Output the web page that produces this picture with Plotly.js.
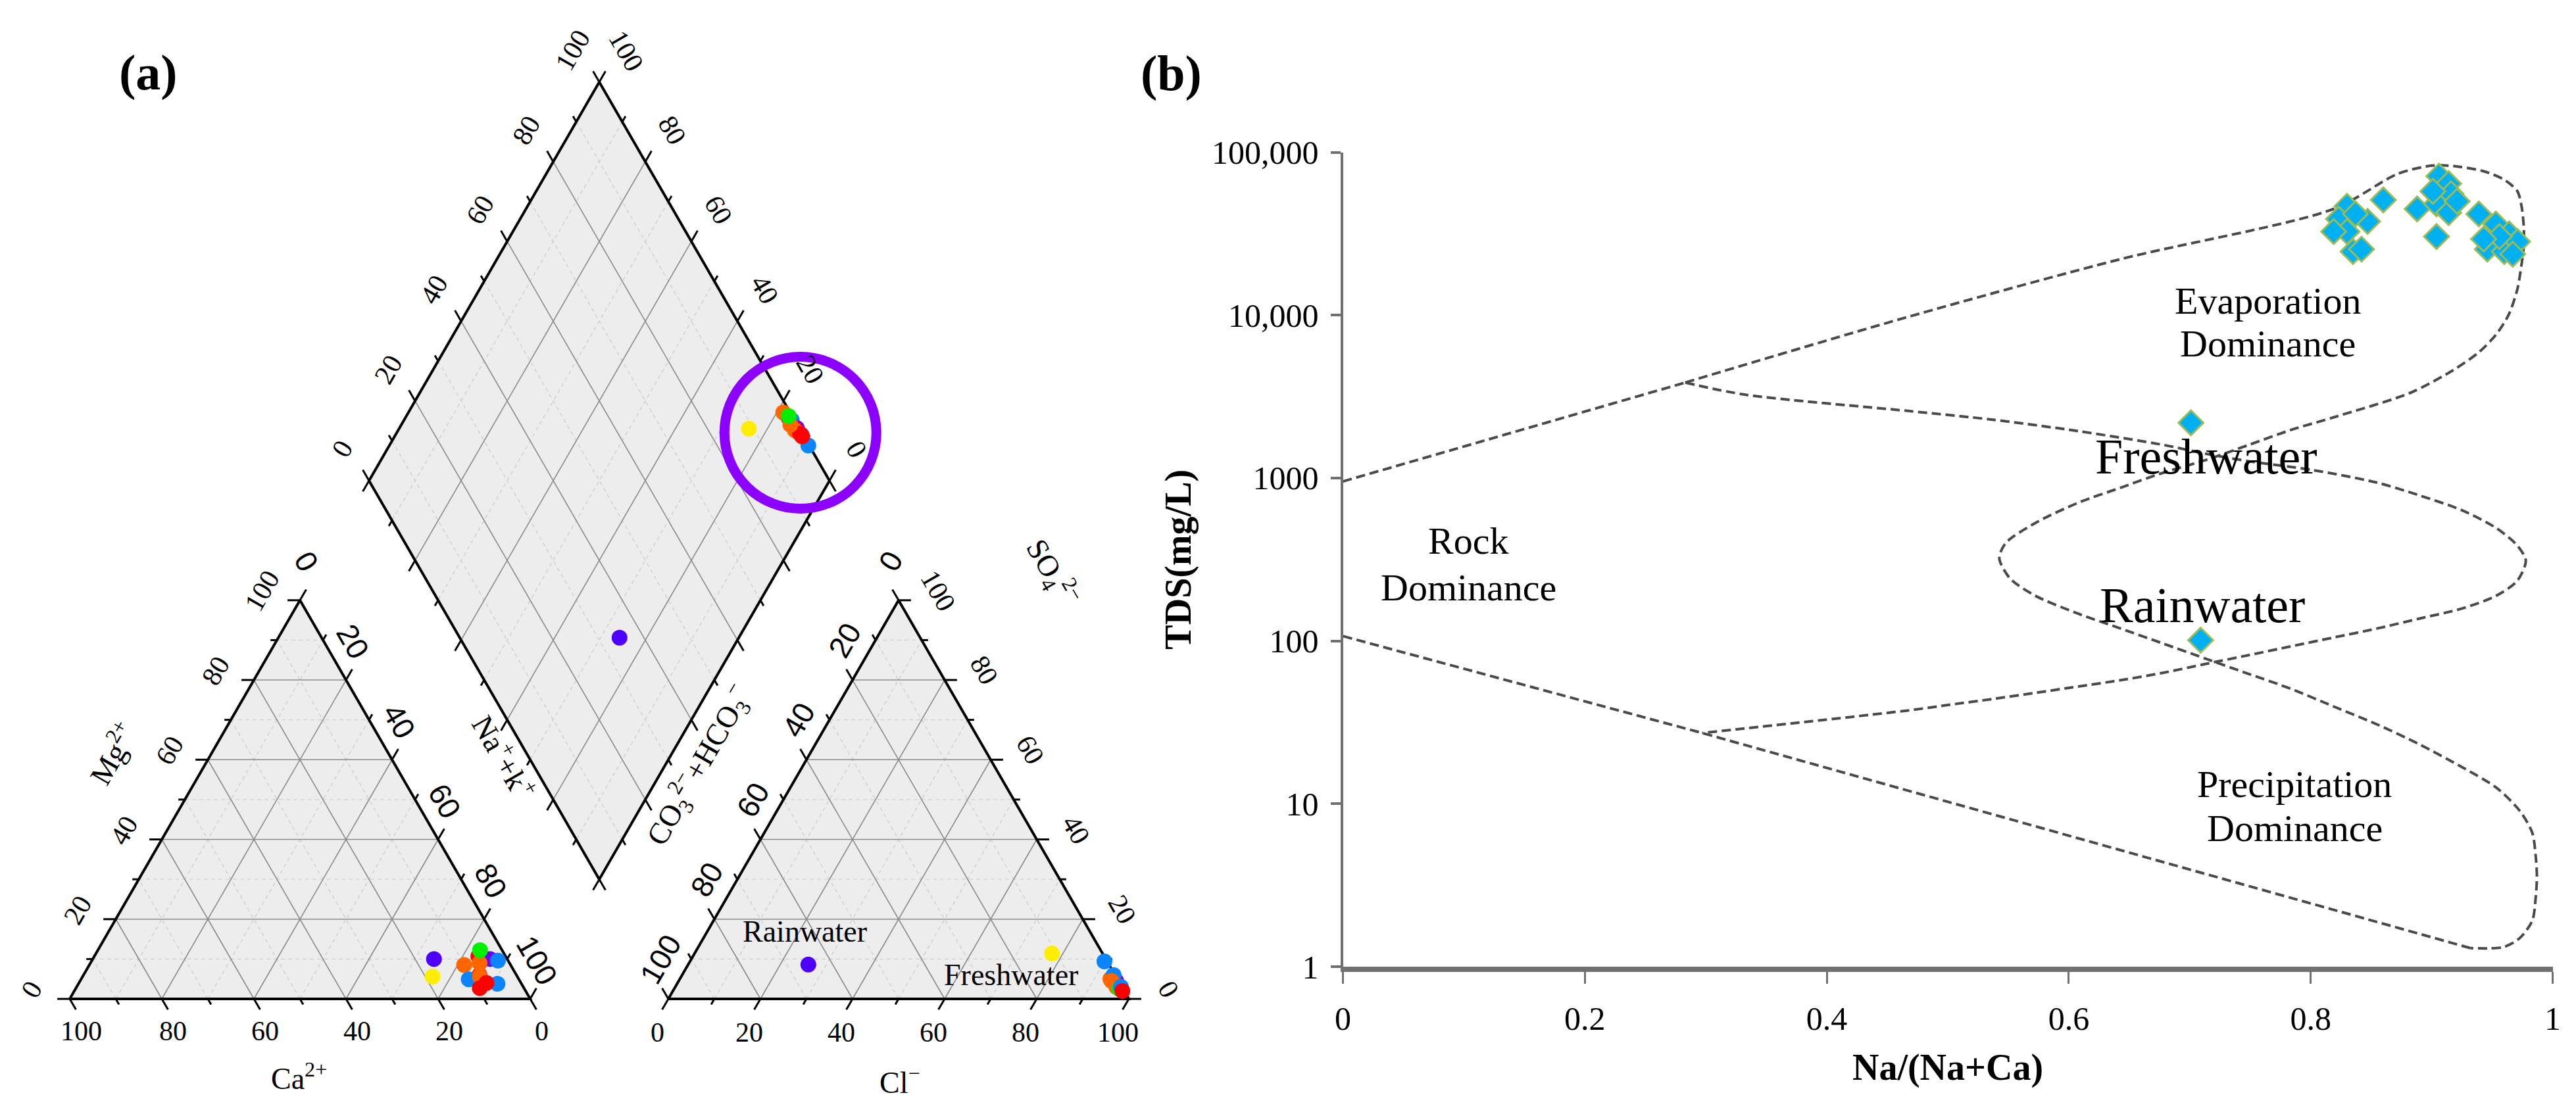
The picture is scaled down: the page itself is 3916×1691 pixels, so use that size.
<!DOCTYPE html>
<html><head><meta charset="utf-8">
<script src="https://cdn.plot.ly/plotly-3.0.1.min.js"></script>
<style>html,body{margin:0;padding:0;background:#fff}</style>
</head><body>
<div id="chart" style="width:3916px;height:1691px"></div>
<script>
// ================= DATA =================
// Piper samples (meq %)
const sampleColors = ['#4D00FF','#FFEE00','#FF6600','#FF0000','#0A84FF','#6A00FF','#FF0000','#FF6600','#0A84FF','#FF0000','#FF6600','#00EE00','#0A84FF','#FF0000'];
const cationCa  = [15.9, 18.4, 10.1,  5.9, 10.9,  3.7,  8.0,  8.1,  2.2,  9.6,  6.5,  4.8,  5.2,  7.5];
const cationMg  = [10.0,  5.6,  8.5, 10.7,  4.9, 10.0,  6.0,  5.7,  9.6,  2.7,  9.0, 12.2,  3.8,  4.0];
const cationNaK = [74.1, 76.0, 81.4, 83.4, 84.2, 86.3, 86.0, 86.2, 88.2, 87.7, 84.5, 83.0, 91.0, 88.5];
const anionHCO3 = [65.3, 11.0,  1.5,  1.0,  0.6,  0.5,  1.0,  1.2,  0.3,  0.5,  1.5,  0.8,  0.2,  0.4];
const anionSO4  = [ 8.6, 11.4,  5.0,  3.5,  9.4,  4.5,  4.0,  3.0,  6.0,  2.5,  4.5,  2.5,  3.0,  2.0];
const anionCl   = [26.1, 77.6, 93.5, 95.5, 90.0, 95.0, 95.0, 95.8, 93.7, 97.0, 94.0, 96.7, 96.8, 97.6];
const piperTickValues = [0, 20, 40, 60, 80, 100];

// Gibbs samples
const gibbsRatio = [0.830,0.860,0.847,0.823,0.830,0.835,0.842,0.837,0.819,
                    0.906,0.914,0.916,0.888,0.904,0.914,0.904,0.921,0.901,
                    0.939,0.953,0.964,0.946,0.960,0.971,0.967,0.956,0.943,
                    0.701,0.709];
const gibbsTDS   = [46560,50930,37580,38900,32580,24550,25410,41880,32580,
                    71290,64120,55590,44870,48190,42560,30340,50000,57540,
                    41780,36220,31480,25410,24550,28250,23660,30340,29310,
                    2183,101];

// Gibbs boundary (dashed) curves
const upperLineRatio = [0, 0.283];
const upperLineTDS   = [953, 3855];
const outerRatio = [0.283,0.467,0.643,0.819,0.8721,0.9003,0.9179,0.9426,0.9602,0.9708,0.9743,0.9761,0.9761,0.9743,0.9708,0.9637,0.9532,0.9390,0.9179,0.8827,
                    0.8192,0.7840,0.7488,0.7135,0.6783,0.6430,0.6078,0.5725,0.5479,0.5426,0.5514,0.5725,0.6078,0.6430,0.6783,0.7135,0.7488,0.7840,0.8192,0.8545,0.8897,0.9250,0.9532,
                    0.9729,0.9832,0.9859,0.9870,0.9859,0.9832,0.9729,0.9593,0.9320];
const outerTDS   = [3855,9750,22080,44870,73800,82800,82200,76560,67600,57680,46560,34990,26360,20510,14390,10070,7590,5915,4600,3342,
                    2360,1977,1596,1291,1079,873,705,530,399,322,242,189,147,119,96.2,77.6,62.7,50.7,39.5,30.8,23.2,16.8,12.6,
                    9.04,6.62,4.85,3.56,2.61,1.92,1.50,1.32,1.30];
const lowerLineRatio = [0.9320, 0.297, 0];
const lowerLineTDS   = [1.30, 27.2, 107];
const innerRatio = [0.283,0.332,0.467,0.5373,0.6078,0.6783,0.7135,0.7488,0.8016,0.8545,0.8897,0.9250,0.9532,0.9708,0.9778,0.9708,0.9532,0.9250,0.8897,0.8545,0.8192,0.7840,0.7488,0.7135,0.6783,0.6430,0.6078,0.5725,0.5373,0.5021,0.4670,0.297];
const innerTDS   = [3855,3251,2582,2280,1941,1596,1409,1268,1119,938,783,634,494,385,311,234,189,158,137,119,105,92.7,81.8,72.3,63.8,57.4,52.5,48.0,44.0,40.6,37.4,27.2];

const gibbsXTicks = [0, 0.2, 0.4, 0.6, 0.8, 1];
const gibbsXTickText = ['0','0.2','0.4','0.6','0.8','1'];
const gibbsYTicks = [1, 10, 100, 1000, 10000, 100000];
const gibbsYTickText = ['1','10','100','1000','10,000','100,000'];

// ================= GEOMETRY =================
const W = 3916, HT = 1691;
const PX = 7;             // pixels per Piper unit
const ORX = 106, ORY = 1519; // pixel of Piper origin
const H = Math.sqrt(3)/2;
const SERIF = 'Liberation Serif, Times New Roman, serif';
const SANS = 'Liberation Sans, Arial, sans-serif';
const cat = (ca, mg, nak) => [nak + mg/2, mg*H];
const ani = (hco3, so4, cl) => [130 + cl + so4/2, so4*H];
const dia = (nak, hco3) => [115 + 0.5*nak - 0.5*hco3, 230*H - H*(nak + hco3)];
const off = (p, dx, dy) => [p[0] + dx/PX, p[1] - dy/PX];

function seg(a, p, q){ a.x.push(p[0], q[0], null); a.y.push(p[1], q[1], null); }

const gridMaj = {x:[],y:[]}, gridMin = {x:[],y:[]};
for (let v = 10; v < 100; v += 10) {
  const g = (v % 20 === 0) ? gridMaj : gridMin;
  seg(g, cat(100-v, v, 0), cat(0, v, 100-v));
  seg(g, cat(100-v, 0, v), cat(0, 100-v, v));
  seg(g, cat(v, 0, 100-v), cat(v, 100-v, 0));
  seg(g, ani(100-v, v, 0), ani(0, v, 100-v));
  seg(g, ani(100-v, 0, v), ani(0, 100-v, v));
  seg(g, ani(v, 0, 100-v), ani(v, 100-v, 0));
  seg(g, dia(v, 0), dia(v, 100));
  seg(g, dia(0, v), dia(100, v));
}

const polys = [
  [cat(100,0,0), cat(0,0,100), cat(0,100,0)],
  [ani(100,0,0), ani(0,0,100), ani(0,100,0)],
  [dia(0,0), dia(100,0), dia(100,100), dia(0,100)]
];
const fillTraces = polys.map(p => ({
  x: p.map(q=>q[0]).concat([p[0][0]]), y: p.map(q=>q[1]).concat([p[0][1]]),
  mode:'lines', fill:'toself', fillcolor:'#EDEDED', line:{width:0, color:'rgba(0,0,0,0)'},
  xaxis:'x', yaxis:'y', hoverinfo:'skip'
}));
const border = {x:[], y:[]};
polys.forEach(p => { p.concat([p[0]]).forEach(q => { border.x.push(q[0]); border.y.push(q[1]); }); border.x.push(null); border.y.push(null); });

// ticks
const ticks = {x:[], y:[]};
const axesDef = [
  {pt: v => cat(v, 0, 100-v), d: [0.5, -H]},
  {pt: v => cat(100-v, v, 0), d: [-1, 0]},
  {pt: v => cat(0, 100-v, v), d: [0.5, H]},
  {pt: v => ani(100-v, 0, v), d: [-0.5, -H]},
  {pt: v => ani(v, 100-v, 0), d: [-0.5, H]},
  {pt: v => ani(0, v, 100-v), d: [1, 0]},
  {pt: v => dia(0, v), d: [-0.5, H]},
  {pt: v => dia(v, 0), d: [0.5, H]},
  {pt: v => dia(v, 100), d: [-0.5, -H]},
  {pt: v => dia(100, v), d: [0.5, -H]}
];
axesDef.forEach(a => {
  for (let v = 0; v <= 100; v += 10) {
    const p = a.pt(v), L = (v % 20 === 0) ? 2.7 : 1.4;
    seg(ticks, p, [p[0] + a.d[0]*L, p[1] + a.d[1]*L]);
  }
});

// annotations
const ann = [];
function lab(p, text, angle, size, family){
  ann.push({x:p[0], y:p[1], xref:'x', yref:'y', text:text, showarrow:false,
    textangle: angle||0, xanchor:'center', yanchor:'middle',
    font:{family:family||SERIF, size:size||42, color:'#000'}});
}
piperTickValues.forEach(v => {
  lab(off(cat(v,0,100-v), 17, 49), String(v), 0);
  lab(off(cat(100-v,v,0), -58, -14), String(v), -60);
  lab(off(cat(0,100-v,v), 10, -59), String(v), 60, 46, SANS);
  lab(off(dia(0,100-v), -41, -48), String(v), -60);
  lab(off(dia(100-v,0), 41, -48), String(v), 60);
  lab(off(ani(v,100-v,0), -12, -60), String(v), -60, 46, SANS);
  lab(off(ani(0,v,100-v), 60, -15), String(v), 60);
  lab(off(ani(100-v,0,v), -17, 51), String(v), 0);
});
const P = (px, py) => [(px-ORX)/PX, (ORY-py)/PX];
lab(P(454,1637), 'Ca<sup>2+</sup>', 0, 46);
lab(P(170,1145), 'Mg<sup>2+</sup>', -60, 46);
lab(P(767,1150), 'Na<sup>+</sup>+k<sup>+</sup>', 60, 46);
lab(P(1062,1163), 'CO<sub>3</sub><sup>2\u2212</sup>+HCO<sub>3</sub><sup>\u2212</sup>', -60, 46);
lab(P(1600,870), 'SO<sub>4</sub><sup>2\u2212</sup>', 60, 46);
lab(P(1368,1643), 'Cl<sup>\u2212</sup>', 0, 46);
lab(P(1223,1416), 'Rainwater', 0, 46);
lab(P(1537,1482), 'Freshwater', 0, 46);
lab(P(225,110), '<b>(a)</b>', 0, 76);

// Gibbs text
function glab(u, tds, text, size){
  ann.push({x:u, y:Math.log10(tds), xref:'x2', yref:'y2', text:text, showarrow:false,
    xanchor:'center', yanchor:'middle', font:{family:SERIF, size:size, color:'#000'}});
}
glab(0.7645, 12190, 'Evaporation', 58);
glab(0.7645, 6710, 'Dominance', 58);
glab(0.1037, 413, 'Rock', 58);
glab(0.1037, 213, 'Dominance', 58);
glab(0.7866, 13.2, 'Precipitation', 58);
glab(0.7866, 7.1, 'Dominance', 58);
glab(0.7135, 1352, 'Freshwater', 76);
glab(0.7107, 166, 'Rainwater', 76);
ann.push({x:1780/W, y:1-112/HT, xref:'paper', yref:'paper', text:'<b>(b)</b>', showarrow:false,
  xanchor:'center', yanchor:'middle', font:{family:SERIF, size:76, color:'#000'}});

// highlight circle around the main cluster in the diamond
const clusterIdx = cationNaK.map((v,i)=>i).filter(i => anionHCO3[i] < 5);
const dpts = clusterIdx.map(i => dia(cationNaK[i], anionHCO3[i]));
const cx = (Math.min(...dpts.map(p=>p[0])) + Math.max(...dpts.map(p=>p[0])))/2 + 1.0;
const cy = (Math.min(...dpts.map(p=>p[1])) + Math.max(...dpts.map(p=>p[1])))/2 - 0.8;
const CR = 16.5;

// ================= TRACES =================
const cPts = cationCa.map((c,i) => cat(c, cationMg[i], cationNaK[i]));
const aPts = anionHCO3.map((c,i) => ani(c, anionSO4[i], anionCl[i]));
const dPts = cationNaK.map((n,i) => dia(n, anionHCO3[i]));
const mk = pts => ({x: pts.map(p=>p[0]), y: pts.map(p=>p[1]), mode:'markers', xaxis:'x', yaxis:'y',
  marker:{size:24, color:sampleColors, line:{width:0}}, hoverinfo:'skip'});

const dashLine = {color:'#4A4A4A', width:4, dash:'14px,7px'};
const traces = [
  ...fillTraces,
  {x:gridMin.x, y:gridMin.y, mode:'lines', line:{color:'#CFCFCF', width:1.4, dash:'6px,5px'}, xaxis:'x', yaxis:'y', hoverinfo:'skip'},
  {x:gridMaj.x, y:gridMaj.y, mode:'lines', line:{color:'#8A8A8A', width:1.6}, xaxis:'x', yaxis:'y', hoverinfo:'skip'},
  {x:border.x, y:border.y, mode:'lines', line:{color:'#000', width:4}, xaxis:'x', yaxis:'y', hoverinfo:'skip'},
  {x:ticks.x, y:ticks.y, mode:'lines', line:{color:'#000', width:3}, xaxis:'x', yaxis:'y', hoverinfo:'skip'},
  mk(cPts), mk(aPts), mk(dPts),
  // Gibbs
  {x:upperLineRatio, y:upperLineTDS, mode:'lines', line:dashLine, xaxis:'x2', yaxis:'y2', hoverinfo:'skip'},
  {x:outerRatio, y:outerTDS, mode:'lines', line:Object.assign({shape:'spline', smoothing:0.8}, dashLine), xaxis:'x2', yaxis:'y2', hoverinfo:'skip'},
  {x:lowerLineRatio, y:lowerLineTDS, mode:'lines', line:dashLine, xaxis:'x2', yaxis:'y2', hoverinfo:'skip'},
  {x:innerRatio, y:innerTDS, mode:'lines', line:Object.assign({shape:'spline', smoothing:0.8}, dashLine), xaxis:'x2', yaxis:'y2', hoverinfo:'skip'},
  {x:gibbsRatio, y:gibbsTDS, mode:'markers', xaxis:'x2', yaxis:'y2', hoverinfo:'skip',
    marker:{symbol:'diamond', size:29, color:'#00B0F0', line:{color:'#9BBB59', width:3}}}
];

const layout = {
  width:W, height:HT, margin:{l:0,r:0,t:0,b:0}, paper_bgcolor:'#fff', plot_bgcolor:'rgba(0,0,0,0)',
  showlegend:false, font:{family:SERIF, color:'#000'},
  xaxis:{domain:[0,0.5], range:[-ORX/PX, (W*0.5-ORX)/PX], visible:false, fixedrange:true},
  yaxis:{domain:[0,1], range:[(ORY-HT)/PX, ORY/PX], visible:false, fixedrange:true},
  xaxis2:{domain:[2041.5/W, 3880.5/W], range:[0,1], anchor:'y2', showgrid:false, zeroline:false,
    showline:true, linecolor:'#707070', linewidth:8, ticks:'outside', ticklen:18, tickwidth:3, tickcolor:'#707070',
    tickvals:gibbsXTicks, ticktext:gibbsXTickText, tickfont:{family:SERIF, size:50, color:'#000'}, ticklabelstandoff:10,
    title:{text:'<b>Na/(Na+Ca)</b>', font:{family:SERIF, size:56, color:'#000'}, standoff:30}},
  yaxis2:{domain:[(HT-1470)/HT, (HT-231.5)/HT], type:'log', range:[0,5], anchor:'x2', showgrid:false, zeroline:false,
    showline:true, linecolor:'#707070', linewidth:4, ticks:'outside', ticklen:15, tickwidth:4, tickcolor:'#707070',
    tickvals:gibbsYTicks, ticktext:gibbsYTickText, tickfont:{family:SERIF, size:50, color:'#000'}, ticklabelstandoff:8,
    title:{text:'<b>TDS(mg/L)</b>', font:{family:SERIF, size:56, color:'#000'}, standoff:14}},
  shapes:[{type:'circle', xref:'x', yref:'y', x0:cx-CR, x1:cx+CR, y0:cy-CR, y1:cy+CR, line:{color:'#8C00FF', width:15}}],
  annotations: ann
};
Plotly.newPlot('chart', traces, layout, {staticPlot:true, displayModeBar:false});
</script>
</body></html>
